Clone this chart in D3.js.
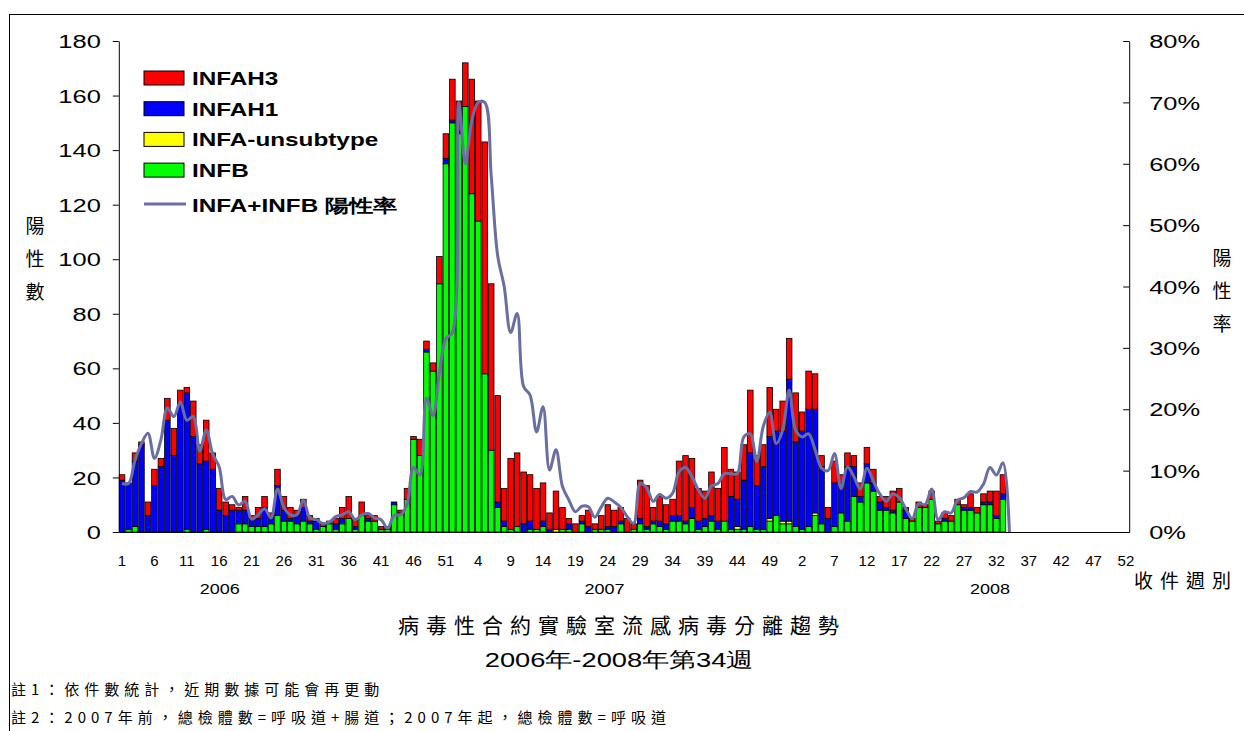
<!DOCTYPE html>
<html>
<head>
<meta charset="utf-8">
<script src="https://cdnjs.cloudflare.com/ajax/libs/d3/7.8.5/d3.min.js"></script>
<style>
body { margin: 0; background: #fff; }
text { font-family: "Liberation Sans", Arial, sans-serif; fill: #000; }
.cjk { font-family: "Noto Sans CJK TC", "Noto Sans CJK SC", sans-serif; }
</style>
</head>
<body>
<svg class="chart" width="1244" height="731"></svg>
<script>
// weeks per year on the x axis
var years = [2006, 2007, 2008],
    weeksPerYear = 52;

// 2006 w1 .. 2008 w34
var infah3 = [2,0,3,1,5,6,3,8,10,5,2,13,7,15,6,8,5,2,1,5,1,4,4,1,6,5,4,2,3,2,1,1,1,2,4,8,3,5,1,2,1,1,0,1,4,1,6,3,3,10,9,15,
    11,16,42,44,85,61,39,12,26,27,19,17,15,14,6,14,8,2,3,2,6,2,5,8,6,5,5,2,14,15,5,9,7,6,20,24,18,12,10,16,12,27,10,10,13,23,11,8,18,8,
    11,15,18,7,14,13,4,4,8,3,5,4,5,6,5,2,4,7,5,1,1,2,1,3,1,2,2,2,1,5,2,3,4,9,7,0];
var infah1 = [19,17,24,32,6,17,24,41,28,47,50,35,25,25,23,8,6,8,5,5,3,3,7,3,11,4,1,3,5,1,3,0,0,2,2,0,1,0,1,0,0,0,1,0,0,0,0,1,0,0,2,1,
    1,0,0,0,0,0,2,2,0,0,3,3,0,2,1,0,0,2,0,1,2,0,0,1,2,1,0,0,2,1,1,2,2,2,2,1,4,3,3,2,3,0,12,10,18,27,16,23,30,31,
    33,52,31,36,43,38,21,5,16,11,20,11,2,7,3,3,1,1,0,3,0,0,0,0,0,1,0,0,1,1,0,1,1,1,2,0];
var infaUnsub = [0,0,0,0,0,0,0,0,0,0,0,0,0,0,0,0,0,0,0,0,0,0,0,0,0,0,0,0,0,0,0,0,0,0,0,0,0,0,0,0,0,0,0,0,0,0,0,0,0,0,0,0,
    0,0,0,0,0,0,0,0,0,0,0,0,0,0,0,1,0,0,0,0,0,0,0,0,0,0,0,0,0,0,0,0,0,0,0,0,0,0,0,0,0,0,0,1,0,0,0,0,1,0,
    1,1,0,0,0,1,0,0,0,0,0,0,0,0,0,0,0,0,0,0,0,0,0,0,0,0,0,0,0,0,0,0,0,0,0,0];
var infb = [0,1,2,0,0,0,0,0,0,0,1,0,0,1,0,0,0,0,3,3,2,2,2,3,6,4,4,3,4,3,1,2,3,1,3,5,1,6,4,4,1,1,10,7,12,34,28,66,59,91,135,150,
    146,156,124,114,58,30,9,2,1,2,0,1,1,2,0,0,1,1,0,3,0,1,1,1,0,3,0,1,3,1,3,2,1,4,4,3,5,1,2,4,1,4,1,1,1,2,1,1,4,6,
    3,3,2,1,2,6,3,0,2,7,4,13,11,18,15,8,8,7,11,5,4,9,9,12,3,4,4,10,8,8,7,10,10,5,12,0];
// INFA+INFB positive rate, percent
var posRate = [7.9,7.9,11.7,14.4,16.1,12,15,20.2,18.8,21.2,18.2,18.8,13.2,16.6,12.7,10.6,5.3,5.8,4.4,5,2.1,2.8,3.8,2.3,7,4,
    2.8,2.8,5.2,2.3,2,1.4,1.6,2.5,2.8,3.3,2,2.8,3,2.3,2,0.6,2.7,2.8,4.5,10.5,9.3,21.8,19,26,31.5,32.5,
    70,60,67,70,70,58,45,40,32.5,35.6,23.7,22.3,16.3,20.4,10.1,13.4,7.4,5.2,3.3,4.2,4.1,2.4,4.1,5.5,4.9,4,2.5,1.4,
    7.9,7.2,5,6.1,5.5,6.3,9.8,10.5,9,6.8,5.5,7.5,7.9,9.5,9.5,9.5,15.5,16,11.5,17.2,19.5,14.4,16.6,23.1,
    16.6,15.5,16,13.4,10.4,10,12.8,7.1,10.6,9,7,10.4,8.3,6.2,5,6.2,5.6,3.8,2.2,4.6,4.5,7,2,3.3,3.1,5.2,5.6,6.6,6.5,7.8,10.5,9.3,11.3,0];

var yTicks = d3.range(0, 181, 20),
    rateTicks = d3.range(0, 9).map(function(d) { return d / 10; }),
    legendItems = [
        { key: 'h3', label: 'INFAH3', color: '#ff0000' },
        { key: 'h1', label: 'INFAH1', color: '#0000ff' },
        { key: 'unsub', label: 'INFA-unsubtype', color: '#ffff00' },
        { key: 'b', label: 'INFB', color: '#00ff00' }
    ],
    lineLabel = 'INFA+INFB 陽性率',
    lineColor = '#6a6ea2';

var categories = [];
years.forEach(function(y, yi) {
    for (var w = 1; w <= weeksPerYear; w++) {
        categories.push({ idx: yi * weeksPerYear + w, year: y, week: w });
    }
});

var rows = infah3.map(function(v, i) {
    return { idx: i + 1, h3: v, h1: infah1[i], unsub: infaUnsub[i], b: infb[i], rate: posRate[i] / 100 };
});

var plot = { left: 118.8, right: 1129.2, top: 41, bottom: 532 },
    wide = 1.34; // the latin text in the original is drawn stretched sideways

var xScale = d3.scaleBand()
        .domain(categories.map(function(d) { return d.idx; }))
        .range([plot.left, plot.right])
        .paddingInner(0.14)
        .paddingOuter(0.07),
    yScale = d3.scaleLinear().domain([0, 180]).range([plot.bottom, plot.top]),
    rScale = d3.scaleLinear().domain([0, 0.8]).range([plot.bottom, plot.top]),
    bw = xScale.bandwidth();

// move x/y into a transform so the text can be widened in place
function stretch(sel, sx) {
    sel.each(function() {
        var t = d3.select(this),
            x = +t.attr('x') || 0,
            y = +t.attr('y') || 0;
        t.attr('x', 0).attr('y', 0)
            .attr('transform', 'translate(' + x + ',' + y + ') scale(' + sx + ',1)');
    });
}

var svg = d3.select('.chart');

svg.append('rect')
    .attr('x', 9.5).attr('y', 14.5)
    .attr('width', 1240).attr('height', 730)
    .attr('fill', '#fff').attr('stroke', '#000').attr('stroke-width', 1);

// stacked bars
var stack = d3.stack().keys(['b', 'unsub', 'h1', 'h3']);
var colorOf = {};
legendItems.forEach(function(d) { colorOf[d.key] = d.color; });

var layers = svg.selectAll('.layer')
    .data(stack(rows))
    .enter().append('g')
    .attr('class', 'layer')
    .attr('fill', function(d) { return colorOf[d.key]; });

layers.selectAll('rect')
    .data(function(d) { return d.filter(function(s) { return s[1] > s[0]; }); })
    .enter().append('rect')
    .attr('x', function(d) { return xScale(d.data.idx); })
    .attr('y', function(d) { return yScale(d[1]); })
    .attr('width', bw)
    .attr('height', function(d) { return yScale(d[0]) - yScale(d[1]); })
    .attr('stroke', '#000')
    .attr('stroke-width', 0.8);

// positive rate line
var line = d3.line()
    .x(function(d) { return xScale(d.idx) + bw / 2; })
    .y(function(d) { return rScale(d.rate); })
    .curve(d3.curveCatmullRom.alpha(0.5));

svg.append('path')
    .datum(rows)
    .attr('d', line)
    .attr('fill', 'none')
    .attr('stroke', lineColor)
    .attr('stroke-width', 3)
    .attr('stroke-linejoin', 'round');

// axes
var yAxis = d3.axisLeft(yScale).tickValues(yTicks).tickSizeInner(6).tickSizeOuter(0).tickPadding(12);
svg.append('g')
    .attr('transform', 'translate(' + plot.left + ',0)')
    .call(yAxis)
    .call(function(g) {
        g.selectAll('text').style('font-size', '19px').attr('dy', '0.35em').call(stretch, wide);
        g.selectAll('line, path').attr('stroke', '#000');
    });

var rAxis = d3.axisRight(rScale).tickValues(rateTicks).tickFormat(d3.format('.0%'))
    .tickSizeInner(-6).tickSizeOuter(0).tickPadding(20);
svg.append('g')
    .attr('transform', 'translate(' + plot.right + ',0)')
    .call(rAxis)
    .call(function(g) {
        g.selectAll('text').style('font-size', '19px').attr('dy', '0.35em').call(stretch, wide);
        g.selectAll('line, path').attr('stroke', '#000');
    });

var xTicks = categories.filter(function(d) { return (d.idx - 1) % 5 === 0; });
var xAxis = d3.axisBottom(xScale)
    .tickValues(xTicks.map(function(d) { return d.idx; }))
    .tickFormat(function(i) { return categories[i - 1].week; })
    .tickSize(0).tickPadding(34);
svg.append('g')
    .attr('transform', 'translate(0,' + plot.bottom + ')')
    .call(xAxis)
    .call(function(g) {
        g.selectAll('text').style('font-size', '15px').attr('dy', '0');
        g.select('.domain').attr('stroke', '#000');
    });

// year labels
var yearPos = [15.6, 75, 134.5];
svg.selectAll('.year')
    .data(years)
    .enter().append('text')
    .attr('class', 'year')
    .attr('x', function(d, i) { return plot.left + yearPos[i] * xScale.step(); })
    .attr('y', 594)
    .attr('text-anchor', 'middle')
    .style('font-size', '15px')
    .text(function(d) { return d; })
    .call(stretch, 1.2);

// axis titles
svg.selectAll('.ylab')
    .data('陽性數'.split(''))
    .enter().append('text')
    .attr('class', 'cjk')
    .attr('x', 35).attr('y', function(d, i) { return 233 + i * 33; })
    .attr('text-anchor', 'middle')
    .style('font-size', '19px')
    .text(function(d) { return d; });

svg.selectAll('.rlab')
    .data('陽性率'.split(''))
    .enter().append('text')
    .attr('class', 'cjk')
    .attr('x', 1222).attr('y', function(d, i) { return 265 + i * 33; })
    .attr('text-anchor', 'middle')
    .style('font-size', '19px')
    .text(function(d) { return d; });

svg.append('text')
    .attr('class', 'cjk')
    .attr('x', 1134).attr('y', 588)
    .style('font-size', '19px')
    .style('letter-spacing', '7px')
    .text('收件週別');

// legend
var legend = svg.append('g').attr('transform', 'translate(144,71)');
var li = legend.selectAll('.li')
    .data(legendItems)
    .enter().append('g')
    .attr('transform', function(d, i) { return 'translate(0,' + i * 30.7 + ')'; });
li.append('rect')
    .attr('width', 40).attr('height', 14)
    .attr('fill', function(d) { return d.color; })
    .attr('stroke', '#000').attr('stroke-width', 1);
li.append('text')
    .attr('x', 48).attr('y', 14)
    .style('font-size', '18px').style('font-weight', 'bold')
    .text(function(d) { return d.label; })
    .call(stretch, 1.35);
legend.append('line')
    .attr('x1', 0).attr('x2', 42)
    .attr('y1', 133).attr('y2', 133)
    .attr('stroke', lineColor).attr('stroke-width', 3);
legend.append('text')
    .attr('x', 48).attr('y', 141)
    .style('font-size', '18px').style('font-weight', 'bold')
    .text(lineLabel)
    .call(stretch, 1.35);

// titles and notes
svg.append('text')
    .attr('class', 'cjk')
    .attr('x', 622).attr('y', 633)
    .attr('text-anchor', 'middle')
    .style('font-size', '21px')
    .style('letter-spacing', '7px')
    .text('病毒性合約實驗室流感病毒分離趨勢');

svg.append('text')
    .attr('x', 619).attr('y', 667)
    .attr('text-anchor', 'middle')
    .style('font-size', '21px')
    .text('2006年-2008年第34週')
    .call(stretch, 1.3);

var notes = ['註1：依件數統計，近期數據可能會再更動', '註2：2007年前，總檢體數=呼吸道+腸道；2007年起，總檢體數=呼吸道'];
svg.selectAll('.note')
    .data(notes)
    .enter().append('text')
    .attr('class', 'cjk')
    .attr('x', 11).attr('y', function(d, i) { return 695 + i * 28; })
    .style('font-size', '15px')
    .style('letter-spacing', '5px')
    .text(function(d) { return d; });
</script>
</body>
</html>
